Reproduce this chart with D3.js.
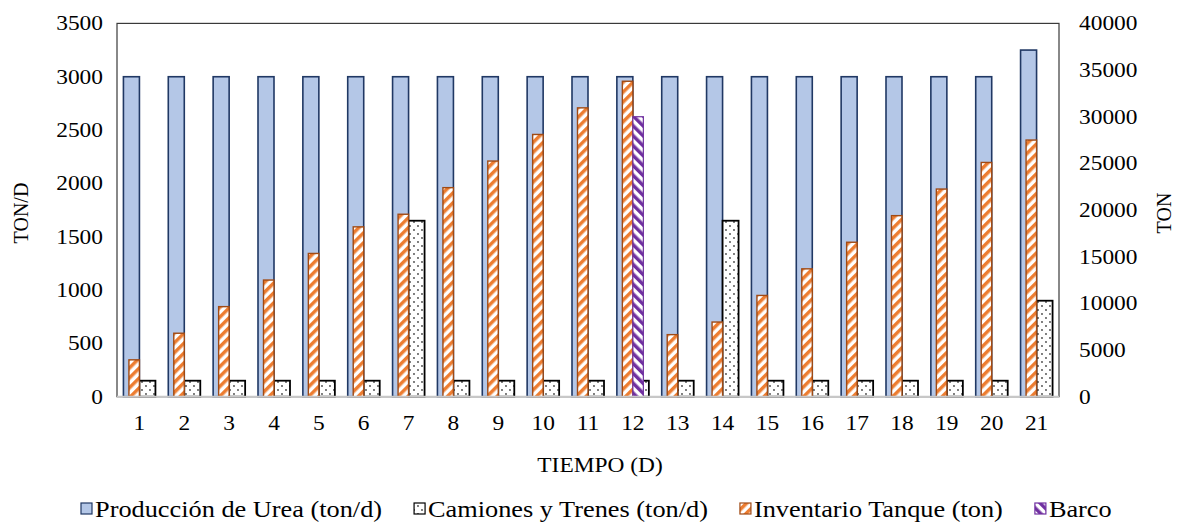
<!DOCTYPE html>
<html>
<head>
<meta charset="utf-8">
<script src="https://cdn.jsdelivr.net/npm/d3@7"></script>
<style>
  body { margin: 0; background: #fff; }
</style>
</head>
<body>
<div id="chart"></div>
<script>
// data
const dias = ["1","2","3","4","5","6","7","8","9","10","11","12","13","14","15","16","17","18","19","20","21"];
const produccion = [3000,3000,3000,3000,3000,3000,3000,3000,3000,3000,3000,3000,3000,3000,3000,3000,3000,3000,3000,3000,3250];
const camiones = [150,150,150,150,150,150,1650,150,150,150,150,150,150,1650,150,150,150,150,150,150,900];
const inventario = [3950,6800,9650,12500,15350,18200,19550,22400,25250,28100,30950,33800,6650,8000,10850,13700,16550,19400,22250,25100,27500];
const barco = [0,0,0,0,0,0,0,0,0,0,0,30000,0,0,0,0,0,0,0,0,0];
const leftTicks = [0,500,1000,1500,2000,2500,3000,3500];
const rightTicks = [0,5000,10000,15000,20000,25000,30000,35000,40000];

const width = 1180, height = 524;
const plot = {left: 117, right: 1059, top: 23.4, bottom: 396.7};
const font = "'Liberation Serif', 'Times New Roman', Tinos, serif";
const fs = 20;          // ticks and titles
const legendFs = 22.5;  // legend a bit bigger
const stretch = 1.17;   // the original text is a bit wider than plain Times

const svg = d3.select("#chart")
    .append("svg")
    .attr("width", width)
    .attr("height", height)
    .style("font-family", font);

// patterns
const defs = svg.append("defs");

const stripes = (id, color, angle) => {
    const p = defs.append("pattern")
        .attr("id", id)
        .attr("patternUnits", "userSpaceOnUse")
        .attr("width", 7)
        .attr("height", 7)
        .attr("patternTransform", `rotate(${angle})`);
    p.append("rect").attr("width", 7).attr("height", 7).attr("fill", "#fff");
    p.append("rect").attr("width", 3.5).attr("height", 7).attr("fill", color);
}
stripes("invPat", "#ED7D31", 45);
stripes("barcoPat", "#7030A0", -45);

const dots = defs.append("pattern")
    .attr("id", "dotPat")
    .attr("patternUnits", "userSpaceOnUse")
    .attr("width", 8)
    .attr("height", 8);
dots.append("rect").attr("width", 8).attr("height", 8).attr("fill", "#fff");
dots.append("circle").attr("cx", 2).attr("cy", 2).attr("r", 0.9).attr("fill", "#444");
dots.append("circle").attr("cx", 6).attr("cy", 6).attr("r", 0.9).attr("fill", "#444");

// scales
const x = d3.scaleBand().domain(dias).range([plot.left, plot.right]);
const bw = x.bandwidth();
const xPrim = d3.scaleBand().domain(["prod", "cam"]).range([bw / 2 - 16, bw / 2 + 16]);
const xSec = d3.scaleBand().domain(["inv", "barco"]).range([bw / 2 - 10.5, bw / 2 + 10.5]);
const yL = d3.scaleLinear().domain([0, 3500]).range([plot.bottom, plot.top]);
const yR = d3.scaleLinear().domain([0, 40000]).range([plot.bottom, plot.top]);

// plot frame
svg.append("rect")
    .attr("x", plot.left)
    .attr("y", plot.top)
    .attr("width", plot.right - plot.left)
    .attr("height", plot.bottom - plot.top)
    .attr("fill", "none")
    .attr("stroke", "#3a3a3a")
    .attr("stroke-width", 1.2);

const series = [
    {key: "prod", vals: produccion, y: yL, sub: xPrim, fill: "#B4C7E7", stroke: "#203864", sw: 1.6},
    {key: "cam", vals: camiones, y: yL, sub: xPrim, fill: "url(#dotPat)", stroke: "#000", sw: 1.8},
    {key: "inv", vals: inventario, y: yR, sub: xSec, fill: "url(#invPat)", stroke: "#A04A14", sw: 1.4},
    {key: "barco", vals: barco, y: yR, sub: xSec, fill: "url(#barcoPat)", stroke: "#7030A0", sw: 1.2}
];

series.forEach(s => {
    svg.append("g")
        .selectAll("rect")
        .data(s.vals.map((v, i) => ({dia: dias[i], v})).filter(d => d.v > 0))
        .join("rect")
        .attr("x", d => x(d.dia) + s.sub(s.key))
        .attr("width", s.sub.bandwidth())
        .attr("y", d => s.y(d.v))
        .attr("height", d => plot.bottom - s.y(d.v))
        .attr("fill", s.fill)
        .attr("stroke", s.stroke)
        .attr("stroke-width", s.sw);
});

// bottom axis line
svg.append("line")
    .attr("x1", plot.left).attr("x2", plot.right)
    .attr("y1", plot.bottom).attr("y2", plot.bottom)
    .attr("stroke", "#c8c8c8")
    .attr("stroke-width", 2);

// axes
const styleAxis = g => {
    g.select(".domain").remove();
    g.attr("font-family", null).attr("font-size", null);
    g.selectAll("text")
        .style("font-family", font)
        .style("font-size", fs + "px")
        .attr("fill", "#000")
        .attr("transform", `scale(${stretch},1)`);
}

svg.append("g")
    .attr("transform", `translate(${plot.left - 14},0)`)
    .call(d3.axisLeft(yL).tickValues(leftTicks).tickFormat(d3.format("d")).tickSize(0).tickPadding(0))
    .call(styleAxis);

svg.append("g")
    .attr("transform", `translate(${plot.right + 20},0)`)
    .call(d3.axisRight(yR).tickValues(rightTicks).tickFormat(d3.format("d")).tickSize(0).tickPadding(0))
    .call(styleAxis);

svg.append("g")
    .attr("transform", `translate(0,${plot.bottom + 19})`)
    .call(d3.axisBottom(x).tickSize(0).tickPadding(0))
    .call(styleAxis);

// axis titles
svg.append("text")
    .attr("transform", `translate(${(plot.left + plot.right) / 2 + 12},472) scale(${stretch},1)`)
    .attr("text-anchor", "middle")
    .style("font-size", fs + "px")
    .text("TIEMPO (D)");

svg.append("text")
    .attr("transform", `translate(28,213) rotate(-90)`)
    .attr("text-anchor", "middle")
    .style("font-size", fs + "px")
    .text("TON/D");

svg.append("text")
    .attr("transform", `translate(1171,213) rotate(-90)`)
    .attr("text-anchor", "middle")
    .style("font-size", fs + "px")
    .text("TON");

// legend
const legend = [
    {label: "Producción de Urea (ton/d)", fill: "#B4C7E7", stroke: "#203864"},
    {label: "Camiones y Trenes (ton/d)", fill: "url(#dotPat)", stroke: "#000"},
    {label: "Inventario Tanque (ton)", fill: "url(#invPat)", stroke: "#A04A14"},
    {label: "Barco", fill: "url(#barcoPat)", stroke: "#7030A0"}
];
const lg = svg.append("g");
let cx = 80;
legend.forEach(d => {
    lg.append("rect")
        .attr("x", cx + 1)
        .attr("y", 503)
        .attr("width", 11)
        .attr("height", 11)
        .attr("fill", d.fill)
        .attr("stroke", d.stroke)
        .attr("stroke-width", 1.2);
    const t = lg.append("text")
        .attr("transform", `translate(${cx + 15},517) scale(${stretch},1)`)
        .style("font-size", legendFs + "px")
        .text(d.label);
    cx = cx + 15 + t.node().getComputedTextLength() * stretch + 31;
});
</script>
</body>
</html>
